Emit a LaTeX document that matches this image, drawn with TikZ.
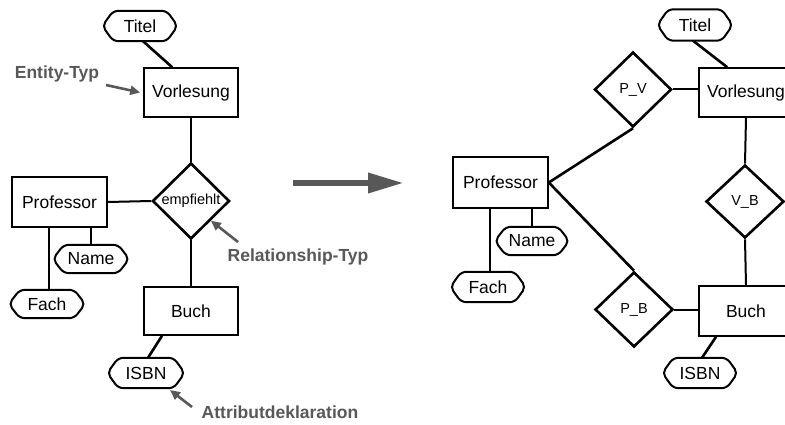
\documentclass[tikz,border=0pt]{standalone}
\usepackage{fontspec}
\setmainfont{Liberation Sans}
\usetikzlibrary{shapes.geometric,arrows.meta}
\definecolor{annot}{RGB}{88,88,88}
\tikzset{
  entbox/.style={draw,line width=1.6pt,rectangle,inner sep=0pt,font=\fontsize{17.5}{20}\selectfont},
  reldia/.style={draw,line width=2.6pt,diamond,aspect=1,inner sep=0pt,font=\fontsize{14.5}{16}\selectfont},
  attrib/.style={rectangle,inner sep=0pt,font=\fontsize{17.5}{20}\selectfont},
  attrstroke/.style={line width=2pt,rounded corners=5pt},
  conn/.style={line width=2pt},
  diag/.style={line width=2.6pt},
  notetext/.style={text=annot,font=\bfseries\fontsize{17.5}{20}\selectfont,inner sep=0pt},
  notearrow/.style={draw=annot,line width=2.6pt,-{Triangle[length=10pt,width=9pt]}},
}
\newcommand{\zw}[1]{\makebox[0pt]{#1}}
\newcommand{\attrline}[1]{\draw[attrstroke] ([xshift=11pt]#1.north west) -- ([xshift=-11pt]#1.north east) -- (#1.east) -- ([xshift=-11pt]#1.south east) -- ([xshift=11pt]#1.south west) -- (#1.west) -- cycle;}
\begin{document}
\begin{tikzpicture}[x=1pt,y=-1pt]
\clip (0,0) rectangle (785,425);
\fill[white] (0,0) rectangle (785,425);
% ---------- left diagram ----------
\node[attrib,minimum width=75pt,minimum height=30pt] (ltitel) at (140,26) {Titel};
\node[entbox,minimum width=94pt,minimum height=49pt] (lvorl) at (191,92.5) {Vorlesung};
\node[reldia,minimum width=77pt,minimum height=76pt] (lemp) at (191,201) {\zw{empfiehlt}};
\node[entbox,minimum width=95pt,minimum height=50pt] (lprof) at (59.5,202) {Professor};
\node[attrib,minimum width=76pt,minimum height=28pt] (lname) at (91,259) {Name};
\node[attrib,minimum width=76pt,minimum height=28pt] (lfach) at (47,304) {Fach};
\node[entbox,minimum width=94pt,minimum height=48pt] (lbuch) at (191,311) {Buch};
\node[attrib,minimum width=77pt,minimum height=30pt] (lisbn) at (146,373) {ISBN};
\attrline{ltitel}
\attrline{lname}
\attrline{lfach}
\attrline{lisbn}

\draw[diag] ([xshift=3pt]ltitel.south) -- ([xshift=29pt]lvorl.north west);
\draw[conn] (lvorl.south) -- (lemp.north);
\draw[conn] (lprof.east) -- (lemp.west);
\draw[conn] (lemp.south) -- (lbuch.north);
\draw[conn] (lname.north) -- (lname.north |- lprof.south);
\draw[conn] ([xshift=2pt]lfach.north) -- ([xshift=2pt]lfach.north |- lprof.south);
\draw[diag] ([xshift=-29pt]lbuch.south) -- ([xshift=2pt]lisbn.north);

% annotations
\node[notetext] (ent) at (57,74) {Entity-Typ};
\node[notetext] (rel) at (298,257) {Relationship-Typ};
\node[notetext] (att) at (280,412) {Attributdeklaration};
\coordinate (entstart) at (106,85);
\coordinate (relstart) at (238,242);
\coordinate (attstart) at (192,407);
\coordinate (attend) at (170,390);
\draw[notearrow] (entstart) -- ([xshift=-3pt]lvorl.west);
\draw[notearrow] (relstart) -- (lemp.south east);
\draw[notearrow] (attstart) -- (attend);

% big arrow
\coordinate (bigA) at (293,183);
\coordinate (bigB) at (404,183);
\draw[draw=annot,line width=6.5pt,-{Triangle[length=36pt,width=19pt]}] (bigA) -- (bigB);

% ---------- right diagram ----------
\node[attrib,minimum width=75pt,minimum height=31pt] (rtitel) at (695,25) {Titel};
\node[entbox,minimum width=94pt,minimum height=49pt] (rvorl) at (746,92.5) {Vorlesung};
\node[reldia,minimum width=77pt,minimum height=75pt] (rpv) at (633,89.5) {\zw{P\_V}};
\node[entbox,minimum width=95pt,minimum height=51pt] (rprof) at (500.5,182.5) {Professor};
\node[attrib,minimum width=74pt,minimum height=28pt] (rname) at (532,241) {Name};
\node[attrib,minimum width=75pt,minimum height=30pt] (rfach) at (488,287) {Fach};
\node[reldia,minimum width=78pt,minimum height=73pt] (rvb) at (745,201.5) {\zw{V\_B}};
\node[reldia,minimum width=78pt,minimum height=75pt] (rpb) at (634,309.5) {\zw{P\_B}};
\node[entbox,minimum width=94pt,minimum height=50pt] (rbuch) at (746,311) {Buch};
\node[attrib,minimum width=75pt,minimum height=30pt] (risbn) at (700,373) {ISBN};
\attrline{rtitel}
\attrline{rname}
\attrline{rfach}
\attrline{risbn}

\draw[diag] ([xshift=-2pt]rtitel.south) -- ([xshift=29pt]rvorl.north west);
\draw[conn] (rpv.east) -- (rpv.east -| rvorl.west);
\draw[diag] (rprof.east) -- (rpv.south);
\draw[diag] (rprof.east) -- (rpb.north);
\draw[conn] (rpb.east) -- (rpb.east -| rbuch.west);
\draw[conn] (rvorl.south) -- (rvb.north);
\draw[conn] (rvb.south) -- (rbuch.north);
\draw[conn] (rname.north) -- (rname.north |- rprof.south);
\draw[conn] ([xshift=2pt]rfach.north) -- ([xshift=2pt]rfach.north |- rprof.south);
\draw[diag] ([xshift=-30pt]rbuch.south) -- ([xshift=2pt]risbn.north);
\end{tikzpicture}
\end{document}
